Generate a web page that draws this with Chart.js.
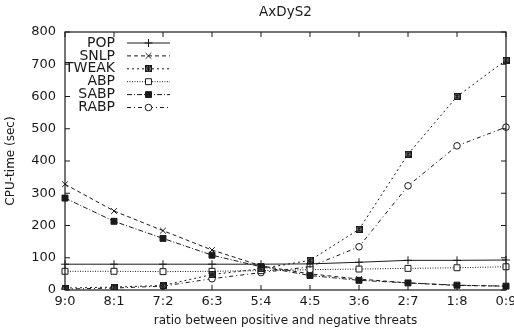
<!DOCTYPE html>
<html>
<head>
<meta charset="utf-8">
<script src="https://cdn.jsdelivr.net/npm/chart.js@4/dist/chart.umd.min.js"></script>
<style>
html,body{margin:0;padding:0;background:#fff;}
#wrap{width:514px;height:334px;}
</style>
</head>
<body>
<div id="wrap"><canvas id="c" width="514" height="334"></canvas></div>
<script>
const categories = ['9:0','8:1','7:2','6:3','5:4','4:5','3:6','2:7','1:8','0:9'];
const yTicks = [0,100,200,300,400,500,600,700,800];
const popValues   = [80,80,80,80,80,81,86,92,92,93];
const snlpValues  = [328,245,184,124,75,50,34,22,14,12];
const tweakValues = [6,9,14,48,66,92,188,421,600,713];
const abpValues   = [58,58,57,58,60,63,65,67,69,72];
const sabpValues  = [285,213,160,108,72,45,30,22,15,12];
const rabpValues  = [3,6,12,35,54,72,134,323,447,505];
const seriesNames = ['POP','SNLP','TWEAK','ABP','SABP','RABP'];

const INK = '#1a1a1a';
const FONT = 'DejaVu Sans';

// boxed asterisk marker for TWEAK
function makeTweakMarker(){
  const c = document.createElement('canvas');
  c.width = 7; c.height = 7;
  const g = c.getContext('2d');
  g.fillStyle = 'rgba(20,20,20,0.6)';
  g.fillRect(0,0,7,7);
  g.strokeStyle = INK; g.lineWidth = 1;
  g.strokeRect(0.5,0.5,6,6);
  g.beginPath();
  g.moveTo(1,1); g.lineTo(6,6);
  g.moveTo(6,1); g.lineTo(1,6);
  g.moveTo(3.5,1); g.lineTo(3.5,6);
  g.stroke();
  return c;
}
const tweakMarker = makeTweakMarker();

function ds(label, data, dash, style, fill, radius){
  return {
    label, data,
    borderColor: INK, borderWidth: 1, borderDash: dash,
    pointStyle: style, pointRadius: radius, pointBorderColor: INK,
    pointBackgroundColor: fill, pointBorderWidth: 1, pointHoverRadius: radius,
    tension: 0, fill: false
  };
}

const datasets = [
  ds(seriesNames[0], popValues, [], 'cross', INK, 4),
  ds(seriesNames[1], snlpValues, [4,3], 'crossRot', INK, 4),
  ds(seriesNames[2], tweakValues, [2,3], tweakMarker, INK, 4),
  ds(seriesNames[3], abpValues, [1,1.5], 'rect', '#fff', 4.2),
  ds(seriesNames[4], sabpValues, [5,2,1,2], 'rect', INK, 4.2),
  ds(seriesNames[5], rabpValues, [4,3,1,3], 'circle', '#fff', 3.3)
];

const frame = {
  id: 'frame',
  afterDatasetsDraw(chart){
    const {ctx, chartArea: a, scales: {x, y}} = chart;
    ctx.save();
    ctx.strokeStyle = INK; ctx.lineWidth = 1.2;
    ctx.strokeRect(a.left, a.top, a.right - a.left, a.bottom - a.top);
    ctx.lineWidth = 1;
    ctx.beginPath();
    const tl = 5;
    categories.forEach((c, i) => {
      const px = x.getPixelForValue(i);
      ctx.moveTo(px, a.bottom); ctx.lineTo(px, a.bottom - tl);
      ctx.moveTo(px, a.top); ctx.lineTo(px, a.top + tl);
    });
    yTicks.forEach(v => {
      const py = y.getPixelForValue(v);
      ctx.moveTo(a.left, py); ctx.lineTo(a.left + tl, py);
      ctx.moveTo(a.right, py); ctx.lineTo(a.right - tl, py);
    });
    ctx.stroke();

    // gnuplot-style key: label right-aligned, sample to the right
    ctx.font = '14px "' + FONT + '"';
    ctx.textAlign = 'right';
    ctx.textBaseline = 'middle';
    chart.data.datasets.forEach((d, i) => {
      const ky = 43 + i * 12.9;
      ctx.fillStyle = INK;
      ctx.fillText(d.label, 115, ky);
      ctx.beginPath();
      ctx.setLineDash(d.borderDash || []);
      ctx.strokeStyle = INK; ctx.lineWidth = 1;
      ctx.moveTo(127, ky); ctx.lineTo(170, ky);
      ctx.stroke();
      ctx.setLineDash([]);
      ctx.fillStyle = d.pointBackgroundColor;
      Chart.helpers.drawPoint(ctx, {pointStyle: d.pointStyle, radius: d.pointRadius, rotation: 0, borderWidth: 1}, 148.5, ky);
    });
    ctx.restore();
  }
};

new Chart(document.getElementById('c'), {
  type: 'line',
  data: { labels: categories, datasets },
  options: {
    responsive: false,
    animation: false,
    devicePixelRatio: 1,
    layout: { padding: { left: 0, right: 8, top: 0, bottom: 0 } },
    plugins: {
      legend: { display: false },
      tooltip: { enabled: false },
      title: {
        display: true, text: 'AxDyS2', fullSize: false, color: INK,
        font: { family: FONT, size: 13.5, weight: 'normal' },
        padding: { top: 4, bottom: 11.8 }
      }
    },
    scales: {
      x: {
        type: 'category', offset: false,
        grid: { display: false, drawTicks: false },
        border: { display: false },
        ticks: { color: INK, autoSkip: false, maxRotation: 0, padding: 4,
                 font: { family: FONT, size: 13 } },
        title: { display: true, text: 'ratio between positive and negative threats', color: INK,
                 font: { family: FONT, size: 12 }, padding: { top: 0, bottom: 6 } },
        afterFit(s){ s.height = 44; s.paddingLeft = 0; s.paddingRight = 0; }
      },
      y: {
        min: 0, max: 800,
        afterBuildTicks(s){ s.ticks = yTicks.map(v => ({value: v})); },
        grid: { display: false, drawTicks: false },
        border: { display: false },
        ticks: { color: INK, padding: 9, font: { family: FONT, size: 13 } },
        title: { display: true, text: 'CPU-time (sec)', color: INK,
                 font: { family: FONT, size: 12 }, padding: { top: 4, bottom: 0 } },
        afterFit(s){ s.width = 65; }
      }
    }
  },
  plugins: [frame]
});
</script>
</body>
</html>
